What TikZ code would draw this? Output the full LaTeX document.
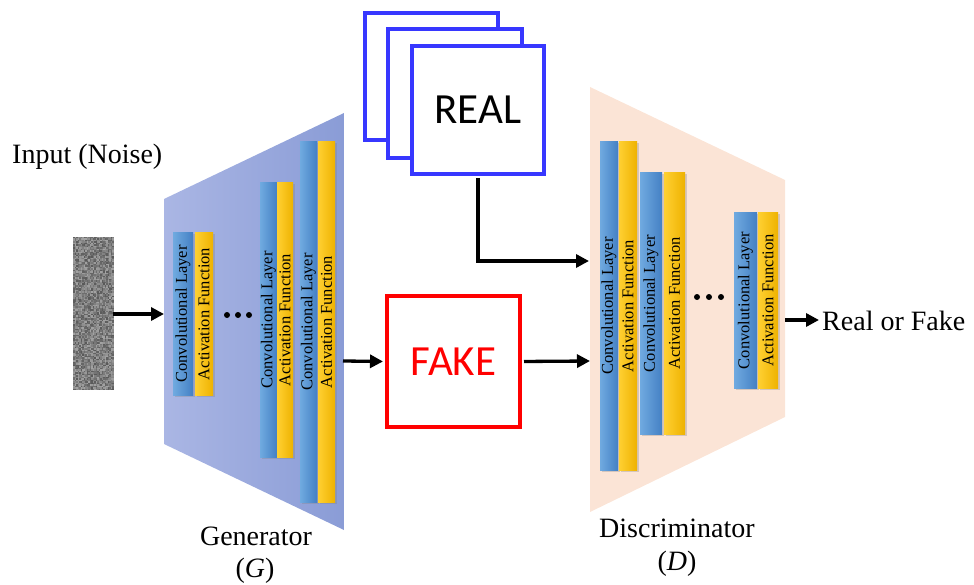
\documentclass[tikz,border=0pt]{standalone}
\usepackage{fontspec}
\setmainfont{Liberation Serif}
\newfontfamily\calib{Carlito}
\usetikzlibrary{arrows.meta,shadows}
\definecolor{genL}{RGB}{170,182,228}
\definecolor{genR}{RGB}{138,156,214}
\definecolor{discfill}{RGB}{251,228,214}
\definecolor{convA}{RGB}{112,170,224}
\definecolor{convB}{RGB}{68,128,196}
\definecolor{actA}{RGB}{255,208,50}
\definecolor{actB}{RGB}{238,178,0}
\definecolor{realblue}{RGB}{55,55,255}
\definecolor{fakered}{RGB}{255,0,0}
\tikzset{
  layerbase/.style={rotate=90, inner sep=0pt, text=black,
    font=\fontsize{16.5}{16.5}\selectfont,
    drop shadow={opacity=0.3, shadow xshift=1.5pt, shadow yshift=-1.5pt}},
  convbox/.style={layerbase, left color=convA, right color=convB},
  actbox/.style={layerbase, left color=actA, right color=actB},
  arr/.style={line width=3.3pt, -{Triangle[length=13pt,width=13pt]}},
  lbl/.style={font=\fontsize{28}{32}\selectfont, inner sep=0pt},
  frame/.style={draw=realblue, line width=4pt, fill=white, inner sep=0pt},
  dot/.style={circle, fill=black, inner sep=0pt, minimum size=6pt}
}
\begin{document}
\begin{tikzpicture}[x=1pt,y=-1pt]
\useasboundingbox (0,0) rectangle (974,585);

% trapezoids
\shade[left color=genL, right color=genR] (164,199) -- (344,113) -- (344,530) -- (164,444) -- cycle;
\fill[discfill] (590,87) -- (785,180) -- (785,417) -- (590,512) -- cycle;

% noise
\pgfmathsetseed{7}
\fill[black!50!white] (73,237) rectangle (113,390);
\foreach \i in {0,...,26}{\foreach \j in {0,...,101}{%
  \pgfmathsetmacro\g{int(36+30*rnd)}%
  \fill[black!\g!white] (73+1.5*\i,237+1.5*\j) rectangle ++(1.5,1.5);}}
\node[minimum width=40pt, minimum height=153pt, inner sep=0pt, anchor=north west] (noise) at (73,237) {};

% generator layers
\node[convbox, minimum width=162pt, minimum height=20pt] (g1c) at (183,314) {Convolutional Layer};
\node[actbox, minimum width=162pt, minimum height=18pt] (g1a) at (204,314) {Activation Function};
\node[dot] (gd1) at (227,315) {};
\node[dot] (gd2) at (238,315) {};
\node[dot] (gd3) at (249,315) {};
\node[convbox, minimum width=274pt, minimum height=17pt] (g2c) at (268.5,320) {Convolutional Layer};
\node[actbox, minimum width=274pt, minimum height=16pt] (g2a) at (285,320) {Activation Function};
\node[convbox, minimum width=360pt, minimum height=17pt] (g3c) at (308.5,322) {Convolutional Layer};
\node[actbox, minimum width=360pt, minimum height=17pt] (g3a) at (326.5,322) {Activation Function};

% discriminator layers
\node[convbox, minimum width=328pt, minimum height=18pt] (d1c) at (609,306) {Convolutional Layer};
\node[actbox, minimum width=328pt, minimum height=18pt] (d1a) at (628,306) {Activation Function};
\node[convbox, minimum width=261pt, minimum height=22pt] (d2c) at (651,303.5) {Convolutional Layer};
\node[actbox, minimum width=261pt, minimum height=21pt] (d2a) at (674.5,303.5) {Activation Function};
\node[dot] (dd1) at (697,297) {};
\node[dot] (dd2) at (709,297) {};
\node[dot] (dd3) at (721,297) {};
\node[convbox, minimum width=175pt, minimum height=23pt] (d3c) at (745.5,300.5) {Convolutional Layer};
\node[actbox, minimum width=175pt, minimum height=20pt] (d3a) at (768,300.5) {Activation Function};

% REAL stack
\node[frame, minimum width=133pt, minimum height=127pt] (real1) at (431.5,76.5) {};
\node[frame, minimum width=134pt, minimum height=129pt] (real2) at (455,93.5) {};
\node[frame, minimum width=132pt, minimum height=128pt, font=\calib\fontsize{43}{43}\selectfont] (real3) at (478,110) {REAL};

% FAKE
\node[draw=fakered, line width=4pt, minimum width=133pt, minimum height=131pt, inner sep=0pt,
  text=fakered, font=\calib\fontsize{43}{43}\selectfont] (fake) at (453.5,361.5) {FAKE};

% labels
\node[lbl, anchor=base west] (inlbl) at (12,164) {Input (Noise)};
\node[lbl, anchor=base] (genlbl) at (256,545) {Generator};
\node[lbl, anchor=base] (genG) at (255,577) {(\textit{G})};
\node[lbl, anchor=base] (disclbl) at (677,537) {Discriminator};
\node[lbl, anchor=base] (discD) at (677,570) {(\textit{D})};
\node[lbl, anchor=base west] (rof) at (822,330) {Real or Fake};

% connector endpoints
\coordinate (genin) at (164,314);
\coordinate (genout) at (343,361);
\coordinate (discin) at (590,361);
\coordinate (discin2) at (589,261);
\coordinate (discout) at (785,320);
\coordinate (rofin) at (819,320);

% arrows
\draw[arr] (noise.east |- genin) -- (genin);
\draw[arr, shorten >=2pt] (genout) -- (fake.west);
\draw[arr, shorten <=2pt] (fake.east) -- (discin);
\draw[arr, shorten <=2pt] (real3.south) |- (discin2);
\draw[arr] (discout) -- (rofin);
\end{tikzpicture}
\end{document}
